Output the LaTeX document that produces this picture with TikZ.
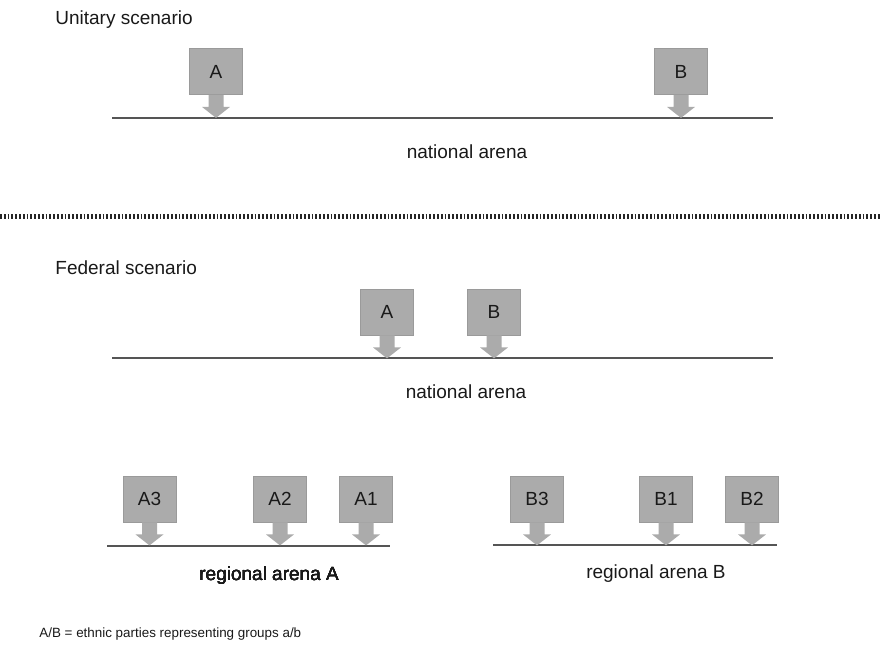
\documentclass[tikz,border=0pt]{standalone}
\usepackage{fontspec}
\setmainfont{Liberation Sans}
\definecolor{partygray}{HTML}{ABABAB}
\definecolor{partyedge}{HTML}{9A9A9A}
\definecolor{arenaline}{HTML}{555555}
\tikzset{
  party/.style={fill=partygray, draw=partyedge, line width=0.4pt,
    minimum width=26.5pt, minimum height=23pt, inner sep=0pt,
    font=\fontsize{9.5}{11}\selectfont, text=black!90},
  arena/.style={draw=arenaline, line width=0.6pt},
  caption/.style={font=\fontsize{9.5}{11}\selectfont, text=black!90, inner sep=0pt},
  partyfill/.style={fill=partygray}
}
% downward arrow under a party box
\newcommand{\dropto}[1]{%
  \fill[partyfill] ([xshift=-3.75pt]#1.south) -- ++(0,12) -- ++(-6.5,0)
    -- ++(14,11) -- ++(14,-11) -- ++(-6.5,0) -- ++(0,-12) -- cycle;}
\begin{document}
\begin{tikzpicture}[x=0.5pt,y=-0.5pt]
  \useasboundingbox (0,0) rectangle (880,645);

  % unitary scenario
  \node[caption, anchor=base west] (uni) at (55,24) {Unitary scenario};
  \node[party] (uA) at (216,71.5) {A};
  \node[party] (uB) at (681,71.5) {B};
  \coordinate (ul) at (112,118);
  \coordinate (ur) at (773,118);
  \draw[arena] (ul) -- (ur);
  \dropto{uA}
  \dropto{uB}
  \node[caption, anchor=base] (unat) at (467,158) {national arena};

  % separator
  \coordinate (sl) at (0,216.5);
  \coordinate (sr) at (880,216.5);
  \draw[black!85, line width=2.5pt, dash pattern=on 0.9pt off 1pt] (sl) -- (sr);

  % federal scenario
  \node[caption, anchor=base west] (fed) at (55,274) {Federal scenario};
  \node[party] (fA) at (387,312) {A};
  \node[party] (fB) at (494,312) {B};
  \coordinate (fl) at (112,358);
  \coordinate (fr) at (773,358);
  \draw[arena] (fl) -- (fr);
  \dropto{fA}
  \dropto{fB}
  \node[caption, anchor=base] (fnat) at (466,398) {national arena};

  % regional arenas
  \foreach \n/\x in {A3/149.5,A2/280,A1/366}
    \node[party] (r\n) at (\x,499) {\n};
  \foreach \n/\x in {B3/537,B1/666,B2/752}
    \node[party] (r\n) at (\x,499) {\n};
  \coordinate (al) at (107,546);
  \coordinate (ar) at (390,546);
  \coordinate (bl) at (493,545);
  \coordinate (br) at (777,545);
  \draw[arena] (al) -- (ar);
  \draw[arena] (bl) -- (br);
  \foreach \n in {A3,A2,A1,B3,B1,B2}
    \dropto{r\n}
  \node[caption, anchor=base west] (rega) at (199,580) {regional arena A};
  \node[caption, anchor=base] (regb) at (656,578) {regional arena B};

  % legend
  \node[caption, anchor=base west, font=\fontsize{6.7}{8}\selectfont] (key) at (39,637)
    {A/B = ethnic parties representing groups a/b};
\end{tikzpicture}
\end{document}
